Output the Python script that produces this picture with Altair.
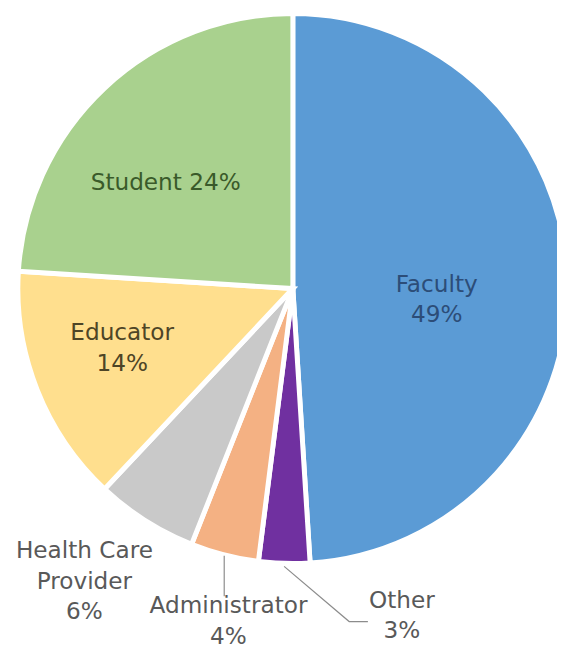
import math
import altair as alt
import pandas as pd

# ---- data ----
categories = ["Faculty", "Other", "Administrator", "Health Care Provider", "Educator", "Student"]
values = [49, 3, 4, 6, 14, 24]
label_names = ["Faculty", "Other", "Administrator", "Health Care\nProvider", "Educator", "Student"]
colors = ["#5B9BD5", "#7030A0", "#F4B183", "#C9C9C9", "#FFDF8E", "#A9D18E"]

# ---- layout ----
W, H = 557, 637
CX, CY, R = 289, 280, 279
FONT = "DejaVu Sans"
FS = 23.5

labels = [f"{n} {v}%" if n == "Student" else f"{n}\n{v}%" for n, v in zip(label_names, values)]
df = pd.DataFrame({"category": categories, "value": values,
                   "order": list(range(len(categories))), "label": labels})

base = alt.Chart(df).transform_joinaggregate(
    total="sum(value)"
).transform_window(
    cum="sum(value)", sort=[alt.SortField("order")], frame=[None, 0]
).transform_calculate(
    t0="(datum.cum - datum.value) / datum.total",
    t1="datum.cum / datum.total",
    tm="(datum.cum - datum.value / 2) / datum.total",
)
theta_scale = alt.Scale(domain=[0, 1], range=[0, 2 * math.pi])

arcs = base.mark_arc(radius=R, stroke="white", strokeWidth=5, clip=True).encode(
    theta=alt.Theta("t0:Q", scale=theta_scale),
    theta2="t1:Q",
    color=alt.Color("category:N", scale=alt.Scale(domain=categories, range=colors), legend=None),
    x=alt.value(CX),
    y=alt.value(CY),
)

label_style = {
    "Faculty": dict(radius=146, dx=0, dy=1, color="#2C4D78"),
    "Student": dict(radius=168, dx=-14, dy=15, color="#3A5A2A"),
    "Educator": dict(radius=183, dx=-3, dy=-22, color="#4E4526"),
    "Health Care Provider": dict(radius=363, dx=-17, dy=-40, color="#595959"),
    "Administrator": dict(radius=339, dx=19, dy=-6, color="#595959"),
    "Other": dict(radius=330, dx=121, dy=-13, color="#595959"),
}
texts = []
for cat, st in label_style.items():
    texts.append(
        base.transform_filter(alt.datum.category == cat).mark_text(
            radius=st["radius"], dx=st["dx"], dy=st["dy"], color=st["color"],
            font=FONT, fontSize=FS, lineBreak="\n", lineHeight=31,
            align="center", baseline="middle",
        ).encode(
            theta=alt.Theta("tm:Q", scale=theta_scale),
            text="label:N",
            x=alt.value(CX),
            y=alt.value(CY),
        )
    )

# leader lines, starting on the rim at each slice's middle angle
total = sum(values)
cum = 0
mids = {}
for c, v in zip(categories, values):
    mids[c] = (cum + v / 2) / total * 2 * math.pi
    cum += v
rows = []
def rim(c, r):
    a = mids[c]
    return CX + r * math.sin(a), CY - r * math.cos(a)
ax, ay = rim("Administrator", R + 1)
rows += [dict(category="Administrator", i=0, px=ax, py=ay), dict(category="Administrator", i=1, px=ax, py=ay + 41)]
ox, oy = rim("Other", R + 3)
rows += [dict(category="Other", i=0, px=ox, py=oy), dict(category="Other", i=1, px=ox + 66, py=oy + 56),
         dict(category="Other", i=2, px=ox + 85, py=oy + 56)]
lines = alt.Chart(pd.DataFrame(rows)).mark_line(color="#8C8C8C", strokeWidth=1.2).encode(
    x=alt.X("px:Q", scale=None),
    y=alt.Y("py:Q", scale=None),
    detail="category:N",
    order="i:Q",
)

chart = alt.layer(arcs, lines, *texts).properties(
    width=W, height=H, autosize="none", padding=0
).configure_view(strokeWidth=0)

chart.save("out.html", embed_options={"renderer": "svg", "actions": False})
